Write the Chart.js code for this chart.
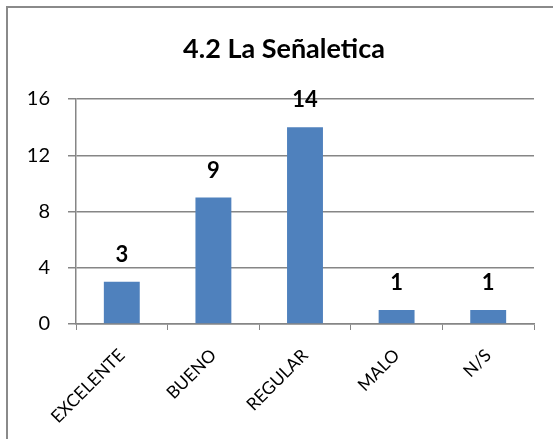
<!DOCTYPE html>
<html>
<head>
<meta charset="utf-8">
<script src="https://cdn.jsdelivr.net/npm/chart.js@4/dist/chart.umd.min.js"></script>
<style>
    html, body { margin: 0; padding: 0; background: #fff; overflow: hidden; }
    #wrap { position: relative; width: 553px; height: 439px; }
    #frame {
        position: absolute; left: 6px; top: 6px;
        width: 600px; height: 500px;
        border: 2px solid #8a8a8a;
    }
    canvas { position: absolute; left: 0; top: 0; }
</style>
</head>
<body>
<div id="wrap">
    <div id="frame"></div>
    <canvas id="chart" width="553" height="439"></canvas>
</div>
<script>
// Chart data
const categories = ['EXCELENTE', 'BUENO', 'REGULAR', 'MALO', 'N/S'];
const counts = [3, 9, 14, 1, 1];
const yTicks = [0, 4, 8, 12, 16];

const chartTitle = '4.2 La Señaletica';
const fontFamily = 'Lato, "Open Sans", sans-serif';

// Title sits a bit right of the canvas centre, like the original
const titleText = {
    id: 'titleText',
    afterDraw(chart) {
        const ctx = chart.ctx;
        ctx.save();
        ctx.font = 'bold 27px ' + fontFamily;
        ctx.fillStyle = '#000';
        ctx.textAlign = 'center';
        ctx.textBaseline = 'alphabetic';
        ctx.fillText(chartTitle, 284, 58);
        ctx.restore();
    }
};

// Draw the value above each bar
const valueLabels = {
    id: 'valueLabels',
    afterDatasetsDraw(chart) {
        const ctx = chart.ctx;
        const meta = chart.getDatasetMeta(0);
        ctx.save();
        ctx.font = 'bold 22px ' + fontFamily;
        ctx.fillStyle = '#000';
        ctx.textAlign = 'center';
        ctx.textBaseline = 'middle';
        meta.data.forEach((bar, i) => {
            ctx.fillText(String(counts[i]), bar.x, bar.y - 27);
        });
        ctx.restore();
    }
};

new Chart(document.getElementById('chart'), {
    type: 'bar',
    data: {
        labels: categories,
        datasets: [{
            data: counts,
            backgroundColor: '#4F81BD',
            borderWidth: 0,
            categoryPercentage: 0.8,
            barPercentage: 0.49
        }]
    },
    options: {
        responsive: false,
        animation: false,
        layout: { padding: { left: 0, right: 19, top: 99, bottom: 0 } },
        plugins: {
            legend: { display: false },
            tooltip: { enabled: false },
            title: { display: false }
        },
        scales: {
            x: {
                grid: {
                    drawOnChartArea: false,
                    drawTicks: true,
                    tickLength: 6,
                    color: '#868686',
                    offset: true
                },
                border: { color: '#868686', width: 1.5 },
                ticks: {
                    color: '#000',
                    font: { family: fontFamily, size: 17.5 },
                    minRotation: 45,
                    maxRotation: 45,
                    padding: 15
                },
                afterFit(scale) { scale.height = 115; }
            },
            y: {
                min: 0,
                max: 16,
                afterBuildTicks(scale) {
                    scale.ticks = yTicks.map(v => ({ value: v }));
                },
                grid: {
                    color: '#868686',
                    lineWidth: 1.5,
                    tickLength: 8
                },
                border: { color: '#868686', width: 1.5 },
                ticks: {
                    color: '#000',
                    font: { family: fontFamily, size: 20 },
                    padding: 18
                },
                afterFit(scale) { scale.width = 76; }
            }
        }
    },
    plugins: [valueLabels, titleText]
});
</script>
</body>
</html>
